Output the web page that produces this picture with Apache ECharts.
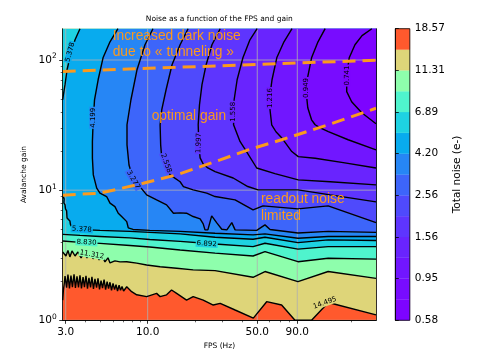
<!DOCTYPE html>
<html>
<head>
<meta charset="utf-8">
<script src="https://cdn.jsdelivr.net/npm/echarts@6/dist/echarts.min.js"></script>
<style>
  html, body { margin: 0; padding: 0; background: #fff; }
  #main { width: 503px; height: 361px; }
</style>
</head>
<body>
<div id="main"></div>
<script>
// ---- axes (both log scale) ----
const fpsRange = [2.87, 286]
const gainRange = [1, 174]
const fpsTicks = [3, 10, 50, 90]
const fpsMinorTicks = [4, 5, 6, 7, 8, 9, 20, 30, 40, 60, 70, 80, 200]
const gainTicks = [1, 10, 100]
const gainMinorTicks = [2, 3, 4, 5, 6, 7, 8, 9, 20, 30, 40, 50, 60, 70, 80, 90]

// ---- contour levels, total noise (e-) ----
const levels = [0.578, 0.741, 0.949, 1.216, 1.558, 1.997, 2.558, 3.277, 4.199, 5.378, 6.892, 8.830, 11.312, 14.495, 18.571]
// rainbow colormap, one colour per band
const bandColors = ['#7d04ff', '#780cff', '#7116ff', '#6924fe', '#5e35fe', '#4f4afc', '#3d65fa',
  '#2686f5', '#08abee', '#1ed2e2', '#4ff4cd', '#8efeac', '#ded579', '#ff592d']

// ---- contour lines, [fps, gain] ----
const c0741 = [[269, 174], [233, 154], [210, 131], [193, 104], [186, 77.1], [186, 57.1], [200, 47.8], [232, 39.3], [286, 32.4]]
const c0949 = [[135.5, 174], [122, 138], [111, 104], [104, 70.5], [103, 54.1], [105, 43.0], [111, 34.7], [117, 31.8],
  [126, 30.1], [142, 28.2], [190, 24.4], [286, 20.4]]
const c1216 = [[83.3, 174], [74.0, 138], [66.6, 104], [62.1, 70.5], [60.3, 54.1], [60.3, 41.5], [61.8, 31.8], [65.8, 28.1],
  [71.5, 25.3], [83, 19.8], [91.3, 18.1], [117, 17.6], [181, 16.2], [286, 14.8]]
const c1558 = [[49.9, 174], [44.9, 143], [40.5, 104], [37.2, 70.5], [35.6, 49.5], [35.3, 31.8], [38.8, 23.7], [42.7, 19.8],
  [49.6, 14.8], [64.8, 13.4], [91.3, 12.0], [146, 11.6], [286, 10.98]]
const c1997 = [[29.0, 174], [25.7, 131], [23.6, 92.0], [22.2, 64.6], [21.4, 45.3], [21.0, 31.8], [21.2, 22.3], [21.6, 17.7],
  [22.6, 15.9], [24.2, 14.8], [26.9, 13.9], [35.1, 12.4], [43.5, 10.66], [50.6, 10.05], [90.9, 10.05], [146, 9.2], [286, 8.13]]
const c2558 = [[18.1, 174], [16.1, 131], [14.3, 92], [13.1, 59.1], [12.3, 41.5], [12.0, 31.8], [12.1, 22.3], [12.3, 17.6],
  [13.2, 14.8], [13.9, 13.1], [16.1, 11.6], [16.9, 10.66], [19.5, 10.05], [23.8, 9.48], [26.9, 8.93], [36.1, 8.42],
  [47.0, 7.06], [54.4, 7.57], [90.9, 7.18], [141.6, 7.57], [286, 5.63]]
const c3277 = [[10.8, 174], [9.61, 131], [8.55, 84.2], [7.82, 49.5], [7.38, 31.8], [7.38, 22.3], [7.60, 15.6], [7.94, 13.1],
  [8.51, 11.6], [9.06, 10.41], [9.85, 9.20], [11.4, 8.42], [13.2, 7.71], [14.6, 6.65], [16.1, 6.69], [17.7, 6.65],
  [19.5, 6.27], [21.6, 6.02], [22.6, 5.51], [23.2, 4.95], [24.2, 4.95], [25.6, 6.34], [27.6, 5.60], [29.7, 5.01],
  [32.0, 4.95], [34.4, 5.63], [36.1, 4.95], [49.6, 4.91], [56.0, 5.41], [60.3, 4.99], [90.9, 4.69], [141.6, 4.82], [286, 4.74]]
const c4199 = [[6.46, 174], [5.75, 138], [5.19, 104], [4.83, 70.5], [4.58, 49.5], [4.48, 31.8], [4.44, 23.7], [4.44, 17.6],
  [4.50, 13.1], [4.73, 10.36], [4.96, 9.48], [5.47, 8.93], [5.75, 7.94], [6.18, 7.48], [6.49, 6.65], [6.82, 6.27],
  [7.35, 5.73], [7.52, 5.13], [7.71, 5.31], [8.06, 4.99], [10.3, 4.91], [16.1, 4.82], [26.9, 4.67], [47.0, 4.53],
  [56.0, 4.61], [90.9, 4.27], [141.6, 4.40], [286, 4.40]]
// 5.378 has two pieces: top-left corner and the low-gain one
const c5378top = [[3.70, 174], [3.44, 143], [3.22, 110], [3.06, 84.2], [2.97, 64.6], [2.90, 54.1], [2.87, 49.5]]
const c5378low = [[2.87, 9.04], [2.93, 8.57], [2.89, 8.30], [2.92, 7.99], [2.97, 7.71], [2.93, 7.45], [2.99, 7.18],
  [3.04, 6.93], [3.00, 6.70], [3.05, 6.46], [3.10, 6.34], [3.06, 6.10], [3.12, 5.91], [3.19, 5.80], [3.16, 5.60],
  [3.22, 5.41], [3.31, 5.41], [3.29, 5.20], [3.36, 5.13], [3.49, 5.22], [3.59, 4.99],
  [3.70, 4.99], [4.96, 4.91], [7.71, 4.82], [10.3, 4.74], [16.1, 4.61], [26.9, 4.35], [47.0, 4.20], [56.0, 4.35],
  [90.9, 3.95], [141.6, 4.15], [286, 4.10]]
const c6892 = [[2.87, 4.57], [3.70, 4.49], [4.96, 4.41], [7.71, 4.30], [10.3, 4.18], [16.1, 4.04], [26.9, 3.86],
  [47.0, 3.68], [56.0, 3.91], [90.9, 3.52], [141.6, 3.68], [286, 3.68]]
const c8830 = [[2.87, 4.07], [3.70, 3.97], [4.96, 3.90], [7.71, 3.76], [10.3, 3.66], [16.1, 3.47], [26.9, 3.28],
  [47.0, 3.12], [56.0, 3.37], [90.9, 2.82], [141.6, 3.00], [286, 2.95]]
const c11312 = [[2.87, 3.35], [3.01, 3.12], [3.10, 3.44], [3.19, 3.07], [3.29, 3.41], [3.44, 3.12], [3.59, 3.35],
  [3.76, 3.02], [3.93, 3.32], [4.10, 3.02], [4.29, 3.29], [4.48, 2.97], [4.69, 3.24], [4.90, 2.91], [5.11, 3.12],
  [5.34, 2.81], [5.58, 3.02], [5.75, 2.76], [6.18, 2.86], [6.66, 2.81], [7.35, 2.82], [8.51, 2.75], [9.85, 2.66],
  [12.0, 2.58], [15.3, 2.51], [19.5, 2.44], [26.9, 2.41], [47.0, 2.14], [56.0, 2.37], [90.9, 1.98], [141.6, 2.37], [286, 2.10]]
const c14495 = [[2.87, 1.43], [2.90, 1.71], [2.94, 1.94], [2.97, 2.19], [3.04, 1.78], [3.10, 2.25], [3.17, 1.76],
  [3.24, 2.21], [3.31, 1.80], [3.39, 2.26], [3.46, 1.77], [3.54, 2.18], [3.62, 1.79], [3.70, 2.22], [3.78, 1.76],
  [3.87, 2.15], [3.95, 1.80], [4.04, 2.20], [4.13, 1.75], [4.22, 2.12], [4.32, 1.79], [4.41, 2.16], [4.51, 1.74],
  [4.61, 2.08], [4.72, 1.78], [4.82, 2.10], [4.93, 1.73], [5.04, 2.02], [5.15, 1.77], [5.27, 2.05], [5.39, 1.72],
  [5.51, 1.98], [5.63, 1.75], [5.75, 1.96], [5.88, 1.70], [6.01, 1.92], [6.15, 1.72], [6.28, 1.88], [6.42, 1.68],
  [6.57, 1.86], [6.71, 1.70], [6.86, 1.82], [7.02, 1.68], [7.35, 1.81], [7.90, 1.66],
  [8.51, 1.57], [9.85, 1.52], [11.4, 1.61], [12.0, 1.52], [13.2, 1.57], [14.2, 1.71], [15.3, 1.61], [17.7, 1.43],
  [19.5, 1.52], [22.6, 1.43], [26.2, 1.31], [29.0, 1.35], [36.1, 1.20], [47.2, 1.04], [57.4, 1.39], [71.5, 1.31],
  [87.0, 1.0], [111, 1.0], [142, 1.37], [286, 1.10]]

// inline contour labels: [text, fps, gain, angle (deg), band behind]
const contourLabels = [
  ['0.741', 186, 76, 90, 0], ['0.949', 103, 61, 90, 1], ['1.216', 60.3, 51, 90, 2],
  ['1.558', 35.3, 40, 90, 3], ['1.997', 21.2, 23, 88, 4], ['2.558', 13.1, 16.1, -70, 5],
  ['3.277', 8.1, 12.0, -60, 6], ['4.199', 4.47, 36, 90, 7], ['5.378', 3.2, 115, 75, 8],
  ['5.378', 3.8, 5.0, -3, 8], ['6.892', 23.8, 3.87, -3, 9], ['8.830', 4.07, 3.97, -3, 10],
  ['11.312', 4.4, 3.2, -10, 11], ['14.495', 135, 1.36, 20, 12]
]

// orange guide lines and notes
const darkNoiseLine = [[2.87, 81.7], [286, 99.7]]
const optimalGainLine = [[2.87, 9.15], [4.96, 9.48], [9.37, 11.3], [15.3, 13.1], [29.0, 17.1], [43.8, 20.4],
  [71.5, 24.4], [142, 31.8], [286, 42.6]]
const notes = [
  ['Increased dark noise', 5.98, 152], ['due to « tunneling »', 5.98, 114],
  ['optimal gain', 10.6, 36.8], ['readout noise', 52.8, 8.53], ['limited', 52.8, 6.26]
]

const L = Math.log10
const toXY = p => [L(p[0]), L(p[1])]
const [xMin, xMax] = fpsRange
const [yMin, yMax] = gainRange
const TL = [xMin, yMax], TR = [xMax, yMax]

// filled bands, painted from high noise to low noise
const fillRegions = [
  { color: bandColors[13], pts: [[xMin, yMin], [xMax, yMin], TR, TL] },
  { color: bandColors[12], pts: c14495.concat([TR, TL]) },
  { color: bandColors[11], pts: c11312.concat([TR, TL]) },
  { color: bandColors[10], pts: c8830.concat([TR, TL]) },
  { color: bandColors[9], pts: c6892.concat([TR, TL]) },
  { color: bandColors[8], pts: c5378low.concat([TR], c5378top) },
  { color: bandColors[7], pts: c4199.concat([TR]) },
  { color: bandColors[6], pts: c3277.concat([TR]) },
  { color: bandColors[5], pts: c2558.concat([TR]) },
  { color: bandColors[4], pts: c1997.concat([TR]) },
  { color: bandColors[3], pts: c1558.concat([TR]) },
  { color: bandColors[2], pts: c1216.concat([TR]) },
  { color: bandColors[1], pts: c0949.concat([TR]) },
  { color: bandColors[0], pts: c0741.concat([TR]) }
]
const contourLines = [c0741, c0949, c1216, c1558, c1997, c2558, c3277, c4199, c5378top, c5378low, c6892, c8830, c11312, c14495]
const gridLines = fpsTicks.map(v => ['x', v]).concat(gainTicks.map(v => ['y', v]))

const FONT = 'DejaVu Sans'
const ORANGE = '#fb9a1d'

const chart = echarts.init(document.getElementById('main'))

const xBase = {
  type: 'value', gridIndex: 0, min: L(xMin), max: L(xMax), position: 'bottom',
  splitLine: { show: false }, z: 10
}
const yBase = {
  type: 'value', gridIndex: 0, min: L(yMin), max: L(yMax), position: 'left',
  splitLine: { show: false }, z: 10
}
const axisLineBlack = { show: true, lineStyle: { color: '#000', width: 0.8 } }

const option = {
  animation: false,
  graphic: [
    {
      type: 'text', x: 219.3, y: 19.5,
      style: { text: 'Noise as a function of the FPS and gain', font: '7.5px ' + FONT, fill: '#000', align: 'center', verticalAlign: 'middle' }
    }
  ],
  grid: [
    { left: 62.7, top: 28.7, width: 313.3, height: 291.6, outerBoundsMode: 'none' },
    { left: 395.3, top: 28.7, width: 14.5, height: 291.6, outerBoundsMode: 'none' }
  ],
  xAxis: [
    Object.assign({}, xBase, {
      name: 'FPS (Hz)', nameLocation: 'middle', nameGap: 22,
      nameTextStyle: { fontFamily: FONT, fontSize: 7.5, color: '#000' },
      axisLine: axisLineBlack,
      axisTick: { show: true, length: 3.5, customValues: fpsTicks.map(L), lineStyle: { color: '#000', width: 0.8 } },
      axisLabel: {
        customValues: fpsTicks.map(L), margin: 6, fontFamily: FONT, fontSize: 10.5, color: '#000',
        formatter: v => Math.pow(10, v).toFixed(1)
      }
    }),
    Object.assign({}, xBase, {
      axisLine: { show: false },
      axisTick: { show: true, length: 2, customValues: fpsMinorTicks.map(L), lineStyle: { color: '#000', width: 0.6 } },
      axisLabel: { show: false }
    }),
    Object.assign({}, xBase, {
      position: 'top', axisLine: axisLineBlack, axisTick: { show: false }, axisLabel: { show: false }
    }),
    { type: 'value', gridIndex: 1, min: 0, max: 1, show: false }
  ],
  yAxis: [
    Object.assign({}, yBase, {
      name: 'Avalanche gain', nameLocation: 'middle', nameGap: 32,
      nameTextStyle: { fontFamily: FONT, fontSize: 7.5, color: '#000' },
      axisLine: axisLineBlack,
      axisTick: { show: true, length: 3.5, customValues: gainTicks.map(L), lineStyle: { color: '#000', width: 0.8 } },
      axisLabel: {
        customValues: gainTicks.map(L), margin: 6, color: '#000',
        formatter: v => '{b|10}{s|' + Math.round(v) + '}',
        rich: {
          b: { fontFamily: FONT, fontSize: 10.5, color: '#000' },
          s: { fontFamily: FONT, fontSize: 7.5, color: '#000', padding: [0, 0, 7, 0] }
        }
      }
    }),
    Object.assign({}, yBase, {
      axisLine: { show: false },
      axisTick: { show: true, length: 2, customValues: gainMinorTicks.map(L), lineStyle: { color: '#000', width: 0.6 } },
      axisLabel: { show: false }
    }),
    Object.assign({}, yBase, {
      position: 'right', axisLine: axisLineBlack, axisTick: { show: false }, axisLabel: { show: false }
    }),
    {
      type: 'value', gridIndex: 1, min: 0, max: 14, interval: 2, position: 'right', z: 10,
      name: 'Total noise (e-)', nameLocation: 'middle', nameGap: 42, nameRotate: 90,
      nameTextStyle: { fontFamily: FONT, fontSize: 10.5, color: '#000' },
      splitLine: { show: false },
      axisLine: axisLineBlack,
      axisTick: { show: true, length: 3.5, lineStyle: { color: '#000', width: 0.8 } },
      axisLabel: { margin: 5, fontFamily: FONT, fontSize: 10.5, color: '#000', formatter: v => levels[v].toFixed(2) }
    }
  ],
  series: [
    // filled contour bands
    {
      type: 'custom', xAxisIndex: 0, yAxisIndex: 0, clip: true, silent: true, z: 1,
      data: fillRegions.map(() => [1, 1]),
      renderItem: (params, api) => {
        const r = fillRegions[params.dataIndex]
        return {
          type: 'polygon',
          shape: { points: r.pts.map(p => api.coord(toXY(p))) },
          style: { fill: r.color, stroke: r.color, lineWidth: 0.3 }
        }
      }
    },
    // grid lines above the fill
    {
      type: 'custom', xAxisIndex: 0, yAxisIndex: 0, clip: true, silent: true, z: 2,
      data: gridLines.map(() => [1, 1]),
      renderItem: (params, api) => {
        const [dir, v] = gridLines[params.dataIndex]
        const a = dir === 'x' ? api.coord([L(v), L(yMin)]) : api.coord([L(xMin), L(v)])
        const b = dir === 'x' ? api.coord([L(v), L(yMax)]) : api.coord([L(xMax), L(v)])
        return {
          type: 'line', shape: { x1: a[0], y1: a[1], x2: b[0], y2: b[1] },
          style: { stroke: '#b0b0b0', lineWidth: 0.8 }
        }
      }
    },
    // contour lines
    ...contourLines.map(c => ({
      type: 'line', xAxisIndex: 0, yAxisIndex: 0, silent: true, z: 3,
      data: c.map(toXY), symbol: 'none', showSymbol: false,
      lineStyle: { color: '#000', width: 1.4 }
    })),
    // contour labels
    {
      type: 'custom', xAxisIndex: 0, yAxisIndex: 0, silent: true, z: 4,
      data: contourLabels.map(() => [1, 1]),
      renderItem: (params, api) => {
        const [t, f, g, ang, band] = contourLabels[params.dataIndex]
        const p = api.coord([L(f), L(g)])
        return {
          type: 'text', x: p[0], y: p[1], rotation: ang * Math.PI / 180,
          style: {
            text: t, font: '7px ' + FONT, fill: '#000', align: 'center', verticalAlign: 'middle',
            backgroundColor: bandColors[band], padding: [0, 1]
          }
        }
      }
    },
    // orange dashed guide lines
    ...[darkNoiseLine, optimalGainLine].map(d => ({
      type: 'line', xAxisIndex: 0, yAxisIndex: 0, silent: true, z: 5,
      data: d.map(toXY), symbol: 'none', showSymbol: false,
      lineStyle: { color: ORANGE, width: 3, type: [13, 7] }
    })),
    // orange notes
    {
      type: 'custom', xAxisIndex: 0, yAxisIndex: 0, silent: true, z: 6,
      data: notes.map(() => [1, 1]),
      renderItem: (params, api) => {
        const [t, f, g] = notes[params.dataIndex]
        const p = api.coord([L(f), L(g)])
        return {
          type: 'text', x: p[0], y: p[1],
          style: { text: t, font: '13.8px Liberation Sans', fill: ORANGE, align: 'left', verticalAlign: 'middle' }
        }
      }
    },
    // colour bar
    {
      type: 'custom', xAxisIndex: 3, yAxisIndex: 3, silent: true, z: 1,
      data: bandColors.map((c, i) => [0, i]),
      renderItem: (params, api) => {
        const i = params.dataIndex
        const a = api.coord([0, i + 1])
        const b = api.coord([1, i])
        return {
          type: 'rect', shape: { x: a[0], y: a[1], width: b[0] - a[0], height: b[1] - a[1] },
          style: { fill: bandColors[i], stroke: bandColors[i], lineWidth: 0.3 }
        }
      }
    },
    {
      type: 'custom', xAxisIndex: 3, yAxisIndex: 3, silent: true, z: 8,
      data: [[0, 0]],
      renderItem: (params, api) => {
        const a = api.coord([0, 14])
        const b = api.coord([1, 0])
        return {
          type: 'rect', shape: { x: a[0], y: a[1], width: b[0] - a[0], height: b[1] - a[1] },
          style: { fill: null, stroke: '#000', lineWidth: 0.8 }
        }
      }
    }
  ]
}

chart.setOption(option)
</script>
</body>
</html>
